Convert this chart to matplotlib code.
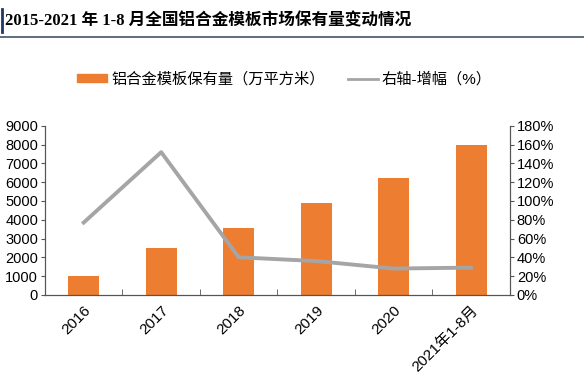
import matplotlib
matplotlib.use('Agg')
import matplotlib.pyplot as plt
from matplotlib.lines import Line2D
from matplotlib.patches import Patch
from matplotlib.ticker import FixedLocator, PercentFormatter

plt.rcParams['font.family'] = ['Liberation Sans', 'Noto Sans CJK SC']

categories = ['2016', '2017', '2018', '2019', '2020', '2021年1-8月']
holdings = [980, 2520, 3550, 4870, 6200, 7980]
growth = [77, 152, 40, 36, 28, 29]

title = '2015-2021 年 1-8 月全国铝合金模板市场保有量变动情况'
bar_label = '铝合金模板保有量（万平方米）'
line_label = '右轴-增幅（%）'

ORANGE = '#ED7D31'
GREY = '#A5A5A5'

fig = plt.figure(figsize=(5.84, 3.78), dpi=100)
ax = fig.add_axes([0.077, 0.22, 0.796, 0.447])
ax2 = ax.twinx()

x = range(len(categories))
ax.bar(x, holdings, width=0.4, color=ORANGE, zorder=2)
ax2.plot(x, growth, color=GREY, lw=2.8, zorder=3)
ax.set_zorder(1)
ax2.set_zorder(2)
ax.patch.set_visible(False)

ax.set_xlim(-0.5, len(categories) - 0.5)
ax.set_ylim(0, 9000)
ax.set_yticks(range(0, 9001, 1000))
ax2.set_ylim(0, 180)
ax2.set_yticks(range(0, 181, 20))
ax2.yaxis.set_major_formatter(PercentFormatter(decimals=0))

ax.set_xticks(list(x))
ax.set_xticklabels(categories, rotation=45, ha='right', rotation_mode='anchor', fontsize=11)
ax.tick_params(axis='x', length=0, pad=6)
ax.xaxis.set_minor_locator(FixedLocator([i + 0.5 for i in range(len(categories) - 1)]))
ax.tick_params(axis='x', which='minor', direction='in', length=4, color='#555555')
ax.tick_params(axis='y', labelsize=10.5, length=3, color='#555555', pad=2)
ax2.tick_params(axis='y', labelsize=10.5, length=3, color='#555555', pad=2)

for a in (ax, ax2):
    a.spines['top'].set_visible(False)
    for s in ('left', 'right', 'bottom'):
        a.spines[s].set_color('#555555')
        a.spines[s].set_linewidth(0.8)

handles = [Patch(color=ORANGE), Line2D([0], [0], color=GREY, lw=2)]
fig.legend(handles, [bar_label, line_label], loc='center', bbox_to_anchor=(0.487, 0.79),
           ncol=2, frameon=False, fontsize=11, handlelength=2.0, handleheight=0.45,
           columnspacing=1.5, handletextpad=0.25)

fig.text(0.008, 0.945, title, fontsize=12, fontweight='bold',
         family=['Liberation Serif', 'Noto Sans CJK SC'], va='center', ha='left')
fig.add_artist(Line2D([0.004, 0.004], [0.915, 0.975], color='#1F3864', lw=2))
fig.add_artist(Line2D([0.0, 1.0], [0.902, 0.902], color='#44546A', lw=1.2))

fig.savefig('out.png', dpi=100)
